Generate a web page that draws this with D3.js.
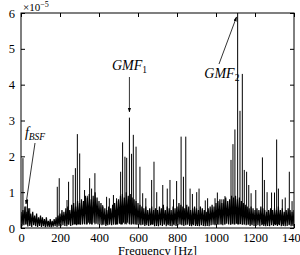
<!DOCTYPE html>
<html>
<head>
<meta charset="utf-8">
<script src="https://cdn.jsdelivr.net/npm/d3@7"></script>
<style>
  body { margin: 0; background: #fff; }
  svg { display: block; }
  text { font-family: "Liberation Serif", "DejaVu Serif", serif; }
</style>
</head>
<body>
<div id="chart"></div>
<script>
// spectrum amplitude (x 1e-5), noise floor sampled every 5 Hz, 0..1400 Hz
var noise_step = 5;
var noise = [
  0.45,0.05,0.5,0.08,0.6,0.1,0.45,0.04,0.55,0.06,0.4,0.03,0.45,0.08,0.35,0.05,0.4,0.03,0.3,0.06,
  0.35,0.03,0.3,0.05,0.25,0.02,0.3,0.04,0.2,0.03,0.25,0.02,0.2,0.04,0.25,0.05,0.3,0.03,0.35,0.05,
  0.4,0.05,0.5,0.08,0.45,0.06,0.55,0.05,0.6,0.09,0.5,0.06,0.65,0.08,0.7,0.1,0.6,0.08,0.75,0.1,
  0.7,0.09,0.8,0.1,0.75,0.12,0.9,0.1,0.85,0.15,0.95,0.12,0.8,0.1,0.9,0.15,1.0,0.12,0.85,0.1,
  0.75,0.1,0.7,0.08,0.6,0.09,0.55,0.06,0.5,0.08,0.6,0.1,0.55,0.08,0.65,0.1,0.7,0.09,0.75,0.1,
  0.8,0.12,0.9,0.1,0.95,0.15,0.85,0.12,1.0,0.15,0.9,0.12,0.95,0.1,0.85,0.12,0.8,0.1,0.75,0.09,
  0.7,0.1,0.65,0.08,0.6,0.09,0.55,0.06,0.6,0.08,0.5,0.06,0.55,0.08,0.6,0.09,0.5,0.05,0.55,0.06,
  0.5,0.05,0.6,0.08,0.55,0.06,0.65,0.09,0.5,0.05,0.6,0.08,0.55,0.06,0.5,0.05,0.6,0.08,0.55,0.06,
  0.6,0.08,0.7,0.1,0.65,0.08,0.6,0.06,0.55,0.08,0.65,0.09,0.6,0.06,0.5,0.05,0.55,0.08,0.6,0.06,
  0.55,0.06,0.5,0.05,0.6,0.08,0.55,0.06,0.5,0.05,0.45,0.06,0.55,0.05,0.6,0.08,0.65,0.09,0.6,0.08,
  0.7,0.1,0.75,0.09,0.8,0.1,0.7,0.08,0.8,0.1,0.85,0.12,0.75,0.1,0.8,0.09,0.9,0.12,0.85,0.1,
  0.9,0.12,0.8,0.1,0.85,0.11,0.75,0.09,0.7,0.1,0.65,0.08,0.6,0.09,0.55,0.06,0.6,0.08,0.55,0.06,
  0.5,0.06,0.55,0.08,0.5,0.05,0.6,0.08,0.55,0.06,0.5,0.05,0.45,0.06,0.5,0.05,0.55,0.08,0.5,0.06,
  0.55,0.08,0.5,0.06,0.6,0.08,0.5,0.05,0.55,0.06,0.45,0.05,0.5,0.06,0.55,0.08,0.5,0.05,0.45,0.06,
  0.5
];
// sharp spectral lines [Hz, amplitude x 1e-5]
var peak_freq = [10,25,33,45,186,196,236,244,267,279,289,301,326,340,352,362,379,419,439,453,474,490,
  511,521,533,542,556,567,576,590,610,624,640,670,682,696,727,750,764,782,798,821,833,845,867,879,901,913,
  945,957,995,1007,1030,1046,1077,1087,1097,1111,1123,1135,1145,1157,1168,1180,1204,1238,1248,1262,1285,
  1300,1311,1320,1340,1355,1376,1390];
var peak_amp = [1.95,0.6,0.8,0.55,1.15,1.39,0.78,1.29,1.48,1.67,2.62,2.08,1.06,0.9,1.39,1.1,1.53,0.64,0.87,0.83,0.92,0.83,
  1.57,2.39,1.99,1.96,3.08,2.07,2.6,2.27,1.71,0.97,0.83,1.34,1.85,1.0,1.2,1.1,1.34,0.8,1.31,2.55,1.43,2.55,1.1,0.95,1.0,1.1,
  0.77,0.83,0.83,0.99,0.8,0.89,1.9,2.34,2.75,6.5,3.27,4.3,1.62,1.57,1.2,0.97,1.06,1.97,1.34,1.0,0.99,
  0.99,2.47,1.1,0.8,0.85,1.57,0.75];
var x_ticks = [0,200,400,600,800,1000,1200,1400];
var y_ticks = [0,1,2,3,4,5,6];

var W = 300, H = 255;
var margin = {left: 21, top: 13, right: 6, bottom: 27};

var svg = d3.select("#chart").append("svg")
    .attr("width", W)
    .attr("height", H);

var x = d3.scaleLinear().domain([0, 1400]).range([margin.left, W - margin.right]);
var y = d3.scaleLinear().domain([0, 6]).range([H - margin.bottom, margin.top]);

svg.append("clipPath").attr("id", "plot_clip")
    .append("rect")
    .attr("x", x(0)).attr("y", y(6))
    .attr("width", x(1400) - x(0)).attr("height", y(0) - y(6));

var plot = svg.append("g").attr("clip-path", "url(#plot_clip)");

var line = d3.line()
    .x(function (d, i) { return x(i * noise_step); })
    .y(function (d) { return y(d); });

plot.append("path")
    .datum(noise)
    .attr("d", line)
    .attr("fill", "none")
    .attr("stroke", "#000")
    .attr("stroke-width", 1.2);

plot.selectAll(".peaks")
    .data(peak_freq)
    .enter().append("line")
    .attr("class", "peaks")
    .attr("x1", function (d) { return x(d); })
    .attr("x2", function (d) { return x(d); })
    .attr("y1", y(0.1))
    .attr("y2", function (d, i) { return y(peak_amp[i]); })
    .attr("stroke", "#000")
    .attr("stroke-width", 1);

// axes, matlab style box with ticks inside
var tl = 4;
svg.append("g")
    .attr("transform", "translate(0," + y(0) + ")")
    .call(d3.axisBottom(x).tickValues(x_ticks).tickSize(-tl).tickPadding(5).tickFormat(d3.format("d")))
    .call(function (g) { g.select(".domain").remove(); })
    .selectAll("text").style("font-size", "12.5px");

svg.append("g")
    .attr("transform", "translate(0," + y(6) + ")")
    .call(d3.axisTop(x).tickValues(x_ticks).tickSize(-tl).tickFormat(""))
    .call(function (g) { g.select(".domain").remove(); });

svg.append("g")
    .attr("transform", "translate(" + x(0) + ",0)")
    .call(d3.axisLeft(y).tickValues(y_ticks).tickSize(-tl).tickPadding(6).tickFormat(d3.format("d")))
    .call(function (g) { g.select(".domain").remove(); })
    .selectAll("text").style("font-size", "12.5px");

svg.append("g")
    .attr("transform", "translate(" + x(1400) + ",0)")
    .call(d3.axisRight(y).tickValues(y_ticks).tickSize(-tl).tickFormat(""))
    .call(function (g) { g.select(".domain").remove(); });

svg.selectAll(".tick line").attr("stroke", "#000");
svg.selectAll(".tick text").attr("fill", "#000");

svg.append("rect")
    .attr("x", x(0)).attr("y", y(6))
    .attr("width", x(1400) - x(0)).attr("height", y(0) - y(6))
    .attr("fill", "none")
    .attr("stroke", "#000")
    .attr("stroke-width", 1);

// exponent label
var ex = svg.append("text").attr("x", x(0) + 2).attr("y", 11).style("font-size", "11px");
ex.append("tspan").text("\u00d710");
ex.append("tspan").attr("dy", -4).style("font-size", "8px").text("\u22125");

svg.append("text")
    .attr("x", (x(0) + x(1400)) / 2)
    .attr("y", 255)
    .attr("text-anchor", "middle")
    .style("font-size", "12.5px")
    .text("Frequency [Hz]");

// annotations
var defs = svg.append("defs");
defs.append("marker")
    .attr("id", "arrow")
    .attr("viewBox", "0 0 10 10")
    .attr("refX", 9).attr("refY", 5)
    .attr("markerWidth", 6).attr("markerHeight", 6)
    .attr("orient", "auto")
    .append("path").attr("d", "M0,1.5 L10,5 L0,8.5 z").attr("fill", "#000");

function label(tx, ty, main, sub, sub_italic) {
    var t = svg.append("text").attr("x", tx).attr("y", ty)
        .attr("text-anchor", "middle")
        .style("font-size", "14px");
    t.append("tspan").style("font-style", "italic").text(main);
    t.append("tspan").attr("dy", 3).style("font-size", "9.5px")
        .style("font-style", sub_italic ? "italic" : "normal").text(sub);
}
function arrow(x1, y1, x2, y2) {
    svg.append("line")
        .attr("x1", x1).attr("y1", y1).attr("x2", x2).attr("y2", y2)
        .attr("stroke", "#000").attr("stroke-width", 0.8)
        .attr("marker-end", "url(#arrow)");
}

label(x(556), 70, "GMF", "1", false);
arrow(x(556), 77, x(556), 112);

label(x(1030), 78, "GMF", "2", false);
arrow(219, 64, 236.5, 17);

label(35, 137, "f", "BSF", true);
arrow(35, 143, 26, 204);
</script>
</body>
</html>
